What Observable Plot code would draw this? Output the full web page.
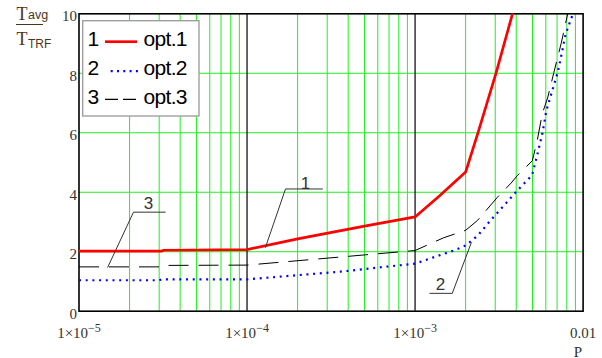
<!DOCTYPE html>
<html>
<head>
<meta charset="utf-8">
<script src="https://cdn.jsdelivr.net/npm/d3@7"></script>
<script src="https://cdn.jsdelivr.net/npm/@observablehq/plot@0.6"></script>
<style>
  html, body { margin: 0; padding: 0; background: #fff; }
</style>
</head>
<body>
<script>
// ---- data ----
const decades = [1e-5, 1e-4, 1e-3, 1e-2];
const xTickLabels = ["1×10^−5", "1×10^−4", "1×10^−3", "0.01"];
const yTicks = [0, 2, 4, 6, 8, 10];
const yGrid = [2, 4, 6, 8];
const minorMultipliers = [2, 3, 4, 5, 6, 7, 8, 9];

const P1 = [1e-5, 3.1e-5, 3.2e-5, 1e-4, 2e-4, 5e-4, 1e-3, 1.4e-3, 2e-3, 2.36e-3, 3.03e-3, 3.8e-3];
const T1 = [2.02, 2.02, 2.05, 2.07, 2.43, 2.86, 3.17, 3.88, 4.68, 5.97, 8.0, 10.0];

const P2 = [1e-5, 3e-5, 3.1e-5, 1e-4, 3.6e-4, 1e-3, 1.74e-3, 2e-3, 2.36e-3, 2.81e-3, 3.38e-3, 4.08e-3, 4.97e-3, 5.37e-3, 5.75e-3, 6.04e-3, 7.07e-3, 7.52e-3, 7.87e-3, 8.7e-3];
const T2 = [1.04, 1.04, 1.07, 1.07, 1.33, 1.60, 2.06, 2.21, 2.54, 3.05, 3.55, 4.07, 4.57, 5.32, 6.03, 6.74, 8.04, 8.76, 9.32, 10.0];

const P3 = [1e-5, 3.3e-5, 3.4e-5, 1e-4, 1e-3, 1.48e-3, 2e-3, 2.35e-3, 3.09e-3, 3.73e-3, 4.06e-3, 4.99e-3, 5.33e-3, 5.71e-3, 6.17e-3, 6.7e-3, 7.4e-3, 8.1e-3];
const T3 = [1.49, 1.49, 1.54, 1.55, 2.04, 2.47, 2.72, 3.05, 3.83, 4.31, 4.56, 5.06, 5.73, 6.63, 7.2, 8.03, 9.0, 10.0];

// annotation leader lines (data coordinates) and labels
const annLabels = ["1", "2", "3"];
const annTextP = [2.23e-4, 1.418e-3, 2.59e-5];
const annTextT = [4.30, 0.90, 3.63];
const annLineP = [[2.81e-4, 1.694e-4, 1.288e-4], [1.225e-3, 1.665e-3, 2.16e-3], [3.26e-5, 2.11e-5, 1.483e-5]];
const annLineT = [[4.11, 4.11, 2.15], [0.60, 0.60, 2.30], [3.33, 3.33, 1.48]];

const legendNames = ["opt.1", "opt.2", "opt.3"];
const seriesColors = ["#ff0000", "#0000ff", "#000000"];

// ---- build tables ----
const toRows = (P, T) => P.map((p, i) => ({p, t: T[i]}));
const s1 = toRows(P1, T1), s2 = toRows(P2, T2), s3 = toRows(P3, T3);
const minorGrid = decades.slice(0, 3).flatMap(d => minorMultipliers.map(m => m * d));
const annRows = annLineP.flatMap((ps, k) => ps.map((p, i) => ({k, p, t: annLineT[k][i]})));
const annText = annLabels.map((l, i) => ({l, p: annTextP[i], t: annTextT[i]}));
const labelMap = new Map(decades.map((d, i) => [d, xTickLabels[i]]));

const green = "#22ee22";
const serif = "'Liberation Serif', 'Times New Roman', serif";
const sans = "Arial, 'Liberation Sans', sans-serif";

const chart = Plot.plot({
  width: 602,
  height: 358,
  marginLeft: 78.5,
  marginRight: 19.4,
  marginTop: 13.3,
  marginBottom: 47.3,
  style: {fontFamily: serif, fontSize: "15px", color: "#333", background: "#fff"},
  x: {type: "log", domain: [1e-5, 1e-2]},
  y: {domain: [0, 10]},
  marks: [
    Plot.ruleX(minorGrid, {stroke: green, strokeWidth: 1}),
    Plot.ruleY(yGrid, {stroke: green, strokeWidth: 1}),
    Plot.ruleX(decades.slice(1, 3), {stroke: "#000", strokeWidth: 1.2}),
    Plot.frame({stroke: "#000", strokeWidth: 1.6}),
    Plot.axisY({ticks: yTicks, tickSize: 0, tickPadding: 2, dy: 2.5, label: null, fill: "#333", tickFormat: d => String(d)}),
    Plot.axisX({ticks: decades, tickSize: 0, tickPadding: 16.5, label: null, fill: "#333", tickFormat: d => labelMap.get(d)}),
    Plot.line(s3, {x: "p", y: "t", stroke: seriesColors[2], strokeWidth: 1, strokeDasharray: "20,10", strokeLinecap: "butt", clip: true}),
    Plot.line(s2, {x: "p", y: "t", stroke: seriesColors[1], strokeWidth: 2.2, strokeDasharray: "2,4.7", strokeLinecap: "butt", clip: true}),
    Plot.line(s1, {x: "p", y: "t", stroke: seriesColors[0], strokeWidth: 2.7, clip: true}),
    Plot.line(annRows, {x: "p", y: "t", z: "k", stroke: "#333", strokeWidth: 1}),
    Plot.text(annText, {x: "p", y: "t", text: "l", fill: "#333", fontSize: 17, fontFamily: sans})
  ]
});

document.body.append(chart);

const svg = d3.select(chart);

// tick label font: serif, 15px
svg.selectAll('g[aria-label="x-axis tick label"], g[aria-label="y-axis tick label"]')
  .attr("font-family", serif).attr("font-size", 15)
  .style("font-family", serif).style("font-size", "15px");
svg.selectAll('g[aria-label="x-axis tick label"] text, g[aria-label="y-axis tick label"] text')
  .attr("font-family", serif).attr("font-size", 15)
  .style("font-family", serif).style("font-size", "15px");

// superscripts in x tick labels
svg.selectAll('g[aria-label="x-axis tick label"] text').each(function () {
  const t = this.textContent;
  const i = t.indexOf("^");
  if (i < 0) return;
  const sel = d3.select(this);
  sel.text(null);
  sel.append("tspan").text(t.slice(0, i));
  sel.append("tspan").attr("dy", "-0.55em").attr("font-size", 12).style("font-size", "12px").text(t.slice(i + 1));
});

// legend box
const lg = svg.append("g").attr("text-anchor", "start");
lg.append("rect").attr("x", 82.7).attr("y", 20.7).attr("width", 116.3).attr("height", 95.3)
  .attr("fill", "#fff").attr("stroke", "#999").attr("stroke-width", 1.3);
const rowBase = [46, 75, 104];
const lineY = [41.7, 71.2, 99.3];
const lineStyles = [
  {w: 2.7, dash: null, x1: 105, x2: 137},
  {w: 2.2, dash: "2,4.3", x1: 110.7, x2: 142},
  {w: 1.2, dash: "13,5", x1: 105, x2: 141}
];
legendNames.forEach((name, i) => {
  lg.append("text").attr("x", 87.5).attr("y", rowBase[i]).attr("text-anchor", "start")
    .attr("font-family", sans).attr("font-size", 21).attr("fill", "#000")
    .text(String(i + 1));
  const ls = lineStyles[i];
  const ln = lg.append("line").attr("x1", ls.x1).attr("x2", ls.x2).attr("y1", lineY[i]).attr("y2", lineY[i])
    .attr("stroke", seriesColors[i]).attr("stroke-width", ls.w);
  if (ls.dash) ln.attr("stroke-dasharray", ls.dash);
  lg.append("text").attr("x", 143.5).attr("y", rowBase[i]).attr("text-anchor", "start")
    .attr("font-family", sans).attr("font-size", 21).attr("fill", "#000")
    .attr("textLength", 44).text(name);
});

// y-axis label as a fraction T_avg / T_TRF
const yl = svg.append("g").attr("fill", "#4d3319").attr("text-anchor", "start");
const t1 = yl.append("text").attr("x", 16.5).attr("y", 20).attr("text-anchor", "start").attr("font-family", serif).attr("font-size", 18);
t1.append("tspan").text("T");
t1.append("tspan").attr("font-family", sans).attr("font-size", 12.5).attr("dy", -1.5).attr("dx", 0.5).text("avg");
yl.append("line").attr("x1", 16).attr("x2", 43).attr("y1", 24.5).attr("y2", 24.5).attr("stroke", "#4d3319").attr("stroke-width", 1);
const t2 = yl.append("text").attr("x", 16.5).attr("y", 45).attr("text-anchor", "start").attr("font-family", serif).attr("font-size", 18);
t2.append("tspan").text("T");
t2.append("tspan").attr("font-family", sans).attr("font-size", 12).attr("dy", 3.3).attr("dx", 0.5).text("TRF");

// x-axis label
svg.append("text").attr("x", 578).attr("y", 356.5).attr("text-anchor", "middle")
  .attr("font-family", serif).attr("font-size", 15).attr("fill", "#333").text("P");
</script>
</body>
</html>
